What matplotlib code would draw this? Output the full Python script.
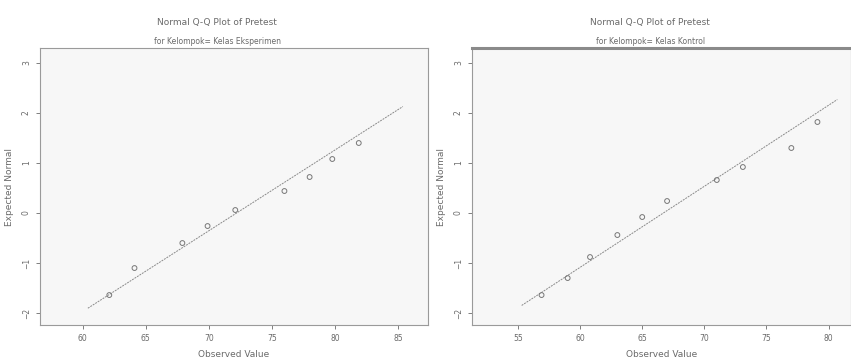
import numpy as np
import matplotlib
matplotlib.use("Agg")
from matplotlib import pyplot as plt

# Kelas Eksperimen
obs_eks = [62.1, 64.1, 67.9, 69.9, 72.1, 76.0, 78.0, 79.8, 81.9]
exp_eks = [-1.64, -1.10, -0.60, -0.26, 0.06, 0.44, 0.72, 1.08, 1.40]
mean_eks, sd_eks = 72.2, 6.2

# Kelas Kontrol
obs_kon = [56.9, 59.0, 60.8, 63.0, 65.0, 67.0, 71.0, 73.1, 77.0, 79.1]
exp_kon = [-1.64, -1.30, -0.88, -0.44, -0.08, 0.24, 0.66, 0.92, 1.30, 1.82]
mean_kon, sd_kon = 66.7, 6.17

xticks_eks = [60, 65, 70, 75, 80, 85]
xticks_kon = [55, 60, 65, 70, 75, 80]
yticks = [-2, -1, 0, 1, 2, 3]

grey = "#6a6a6a"
fig = plt.figure(figsize=(8.51, 3.58), dpi=100)
fig.patch.set_facecolor("white")


def qq_panel(ax, obs, exp, mean, sd, xticks, xlim, line_x):
    ax.set_facecolor("#f7f7f7")
    lx = np.array(line_x)
    ax.plot(lx, (lx - mean) / sd, color="#8a8a8a", lw=0.7, ls=(0, (2, 1)))
    ax.scatter(obs, exp, s=12, facecolors="none", edgecolors="#777777", lw=0.7, zorder=3)
    ax.set_xlim(*xlim)
    ax.set_ylim(-2.24, 3.3)
    ax.set_xticks(xticks)
    ax.set_yticks(yticks)
    ax.tick_params(labelsize=5.5, colors=grey, length=3, width=0.6)
    for lab in ax.get_yticklabels():
        lab.set_rotation(90)
        lab.set_va("center")
    for s in ax.spines.values():
        s.set_color("#9a9a9a")
        s.set_linewidth(0.8)
    ax.set_xlabel("Observed Value", fontsize=6.5, color=grey, labelpad=5)
    ax.set_ylabel("Expected Normal", fontsize=6.5, color=grey, labelpad=6)


ax1 = fig.add_axes([0.047, 0.092, 0.456, 0.774])
qq_panel(ax1, obs_eks, exp_eks, mean_eks, sd_eks, xticks_eks, (56.6, 87.4), [60.4, 85.4])
fig.text(0.255, 0.93, "Normal Q-Q Plot of Pretest", ha="center", fontsize=6.5, color=grey)
fig.text(0.255, 0.878, "for Kelompok= Kelas Eksperimen", ha="center", fontsize=5.5, color=grey)

ax2 = fig.add_axes([0.5546, 0.092, 0.4454, 0.774])
qq_panel(ax2, obs_kon, exp_kon, mean_kon, sd_kon, xticks_kon, (51.3, 81.8), [55.3, 80.7])
ax2.spines["top"].set_linewidth(2.2)
ax2.spines["top"].set_color("#8a8a8a")
fig.text(0.764, 0.93, "Normal Q-Q Plot of Pretest", ha="center", fontsize=6.5, color=grey)
fig.text(0.764, 0.878, "for Kelompok= Kelas Kontrol", ha="center", fontsize=5.5, color=grey)

fig.savefig("out.png", dpi=100)
